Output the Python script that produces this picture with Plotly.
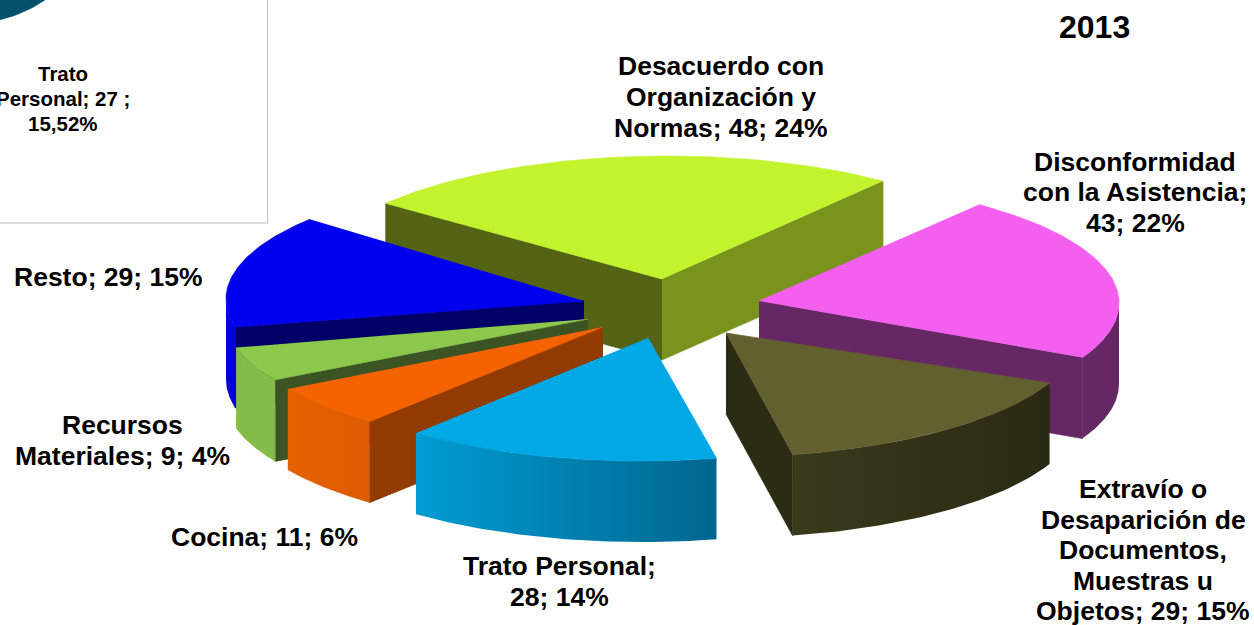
import numpy as np
import plotly.graph_objects as go

# ---- data ----
categories = ["Desacuerdo con Organización y Normas", "Disconformidad con la Asistencia",
              "Extravío o Desaparición de Documentos, Muestras u Objetos", "Trato Personal",
              "Cocina", "Recursos Materiales", "Resto"]
values = [48, 43, 29, 28, 11, 9, 29]
percents = [24, 22, 15, 14, 6, 4, 15]
year_label = "2013"
inset_label = ["Trato", "Personal; 27 ;", "15,52%"]

# ---- styles ----
top_colors = ["#C2F42E", "#F45FF0", "#636030", "#00A9E6", "#F56200", "#8CC84B", "#0000EE"]
start_wall_colors = ["#546314", "#652865", "#2C2B14", "#00668F", "#913B00", "#3C5323", "#000066"]
end_wall_colors = ["#7A931C", "#652865", "#2C2B14", "#00668F", "#913B00", "#3C5323", "#000066"]
outer_left = ["#7A931C", "#652865", "#3A3A1C", "#009CD3", "#E56000", "#85BB48", "#0000DD"]
outer_right = ["#7A931C", "#652865", "#2A2913", "#00668F", "#DD5C00", "#85BB48", "#0000DD"]

# ---- projection and explosion geometry (pixel space) ----
RX, RY, DEPTH = 358, 124, 81
START_ANGLE = -51.3
rim_centers = [(667, 280), (761, 303), (722, 333), (642, 337), (595.5, 325.5), (583, 317), (584, 299)]
tips = [(662, 279), (759, 301), (726, 333), (648, 338), (603, 327), (588, 319), (584, 301)]
# small view-distortion corrections to each slice's start and end direction, degrees
view_skew = [(-0.5, 0.7), (1.2, 1.1), (-1.2, 0.65), (0, 0), (0, 0), (0, 0), (1.3, 1.3)]
draw_order = [0, 1, 6, 5, 4, 2, 3]

label_lines = [
    (721, [66, 97, 128], ["Desacuerdo con", "Organización y", "Normas; 48; 24%"]),
    (1135, [162, 192, 223], ["Disconformidad", "con la Asistencia;", "43; 22%"]),
    (1143, [489, 520, 550, 581, 611], ["Extravío o", "Desaparición de", "Documentos,", "Muestras u", "Objetos; 29; 15%"]),
    (559, [566, 597], ["Trato Personal;", "28; 14%"]),
    (264, [537], ["Cocina; 11; 6%"]),
    (122, [425, 456], ["Recursos", "Materiales; 9; 4%"]),
    (108, [277], ["Resto; 29; 15%"]),
]

FONT = "Liberation Sans, Arial, sans-serif"
fig = go.Figure()


def poly(xs, ys, color=None, gradient=None):
    if gradient:
        kw = dict(fillgradient=gradient, line=dict(width=0, color="rgba(0,0,0,0)"))
    else:
        kw = dict(fillcolor=color, line=dict(width=0.7, color=color))
    fig.add_trace(go.Scatter(x=list(xs), y=list(ys), mode="lines", fill="toself",
                             hoverinfo="skip", showlegend=False, **kw))


def rim(center, a):
    r = np.radians(a)
    return center[0] + RX * np.sin(r), center[1] - RY * np.cos(r)


# inset pie fragment, clipped by the chart's corner
t = np.radians(np.linspace(0, 90, 40))
frag_x = -60 + 130 * np.sin(t)
frag_y = -40 + 67.6 * np.cos(t)
poly(np.r_[-60, frag_x], np.r_[-40, frag_y], color="#05506B")

edges = np.cumsum([0] + values) / sum(values) * 360 + START_ANGLE

for i in draw_order:
    a0, a1 = edges[i] + view_skew[i][0], edges[i + 1] + view_skew[i][1]
    c, tip = rim_centers[i], tips[i]
    p0, p1 = rim(c, a0), rim(c, a1)

    # flat cut walls
    if np.sin(np.radians(a0)) < 0:
        poly([tip[0], p0[0], p0[0], tip[0]], [tip[1], p0[1], p0[1] + DEPTH, tip[1] + DEPTH],
             color=start_wall_colors[i])
    if np.sin(np.radians(a1)) > 0:
        poly([tip[0], p1[0], p1[0], tip[0]], [tip[1], p1[1], p1[1] + DEPTH, tip[1] + DEPTH],
             color=end_wall_colors[i])

    # curved outer wall, only where it faces the viewer
    lo, hi = max(a0, 90), min(a1, 270)
    if hi > lo:
        ang = np.linspace(lo, hi, 60)
        x, y = rim(c, ang)
        grad = dict(type="horizontal",
                    colorscale=[[0, outer_left[i]], [1, outer_right[i]]])
        poly(np.r_[x, x[::-1]], np.r_[y, y[::-1] + DEPTH], gradient=grad)

    # top face
    ang = np.linspace(a0, a1, 80)
    x, y = rim(c, ang)
    poly(np.r_[tip[0], x], np.r_[tip[1], y], color=top_colors[i])

annotations = []
for x, ys, lines in label_lines:
    for y, line in zip(ys, lines):
        annotations.append(dict(x=x, y=y, text=f"<b>{line}</b>", showarrow=False, xanchor="center",
                                yanchor="middle", height=28,
                                font=dict(family=FONT, size=26.5, color="#000000")))
annotations.append(dict(x=1094, y=27, text=f"<b>{year_label}</b>", showarrow=False, xanchor="center",
                        yanchor="middle", font=dict(family=FONT, size=32, color="#000000")))
for y, line in zip([73, 98, 123], inset_label):
    annotations.append(dict(x=62.5, y=y, text=f"<b>{line}</b>", showarrow=False, xanchor="center",
                            yanchor="middle", font=dict(family=FONT, size=20.5, color="#000000")))

fig.update_layout(
    width=1254, height=625, margin=dict(l=0, r=0, t=0, b=0),
    paper_bgcolor="white", plot_bgcolor="white", showlegend=False,
    xaxis=dict(range=[0, 1254], visible=False, fixedrange=True),
    yaxis=dict(range=[625, 0], visible=False, fixedrange=True),
    annotations=annotations,
    shapes=[dict(type="rect", x0=-10, y0=-10, x1=267.5, y1=223, layer="below",
                 line=dict(color="#BFBFBF", width=1), fillcolor="white")],
)
fig.write_html("out.html", config=dict(displayModeBar=False),
               post_script="document.body.style.margin='0';document.body.style.overflow='hidden';")
